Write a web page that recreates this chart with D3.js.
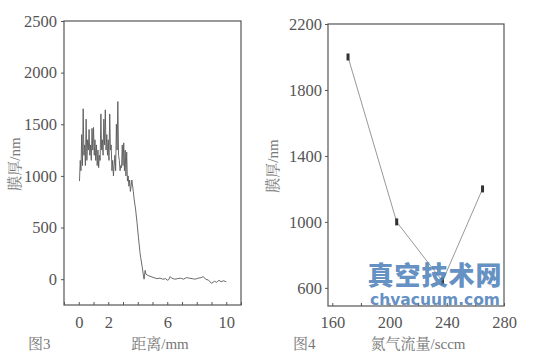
<!DOCTYPE html>
<html>
<head>
<meta charset="utf-8">
<script src="https://cdn.jsdelivr.net/npm/d3@7"></script>
<style>
html,body{margin:0;padding:0;background:#fff;}
svg{display:block;}
.sf{font-family:"Liberation Serif","DejaVu Serif",serif;}
.cj{font-family:"Liberation Serif","Noto Serif CJK SC","Noto Sans CJK SC",serif;}
</style>
</head>
<body>
<svg id="c" width="534" height="364"></svg>
<script>
// ---- Figure 3: thickness profile ----
const distanceMm = [0.05,0.1,0.15,0.2,0.25,0.3,0.35,0.4,0.45,0.5,0.55,0.6,0.65,0.7,0.75,0.8,0.85,0.9,0.95,1.0,
  1.05,1.1,1.15,1.2,1.25,1.3,1.35,1.4,1.45,1.5,1.55,1.6,1.65,1.7,1.75,1.8,1.85,1.9,1.95,2.0,
  2.05,2.1,2.15,2.2,2.25,2.3,2.35,2.4,2.45,2.5,2.55,2.6,2.65,2.7,2.75,2.8,2.85,2.9,2.95,3.0,
  3.05,3.1,3.15,3.2,3.25,3.3,3.35,3.4,3.45,3.5,3.55,3.6,3.7,3.75,3.85,3.95,4.05,4.15,4.2,4.3,
  4.4,4.43,4.5,4.55,4.7,4.9,5.1,5.3,5.5,5.7,5.9,6.0,6.1,6.2,6.3,6.5,6.7,6.9,7.1,7.3,
  7.5,7.7,7.9,8.1,8.3,8.45,8.6,8.8,9.0,9.2,9.35,9.5,9.65,9.8,10.0];
const thicknessNm = [950,1150,1050,1400,1100,1650,1200,1300,1100,1550,1150,1350,1250,1450,1200,1300,1150,1460,1250,1470,
  1200,1350,1150,1300,1100,1250,1080,1200,1150,1600,1250,1350,1200,1550,1300,1640,1250,1400,1200,1350,
  1150,1600,1250,1300,1050,1150,1000,1100,1200,1050,1500,1250,1720,1200,1150,1050,1100,1080,1300,1100,
  1320,1050,1250,1000,1230,950,1000,900,960,850,900,960,850,780,680,550,400,260,210,120,
  20,0,85,50,35,25,15,5,10,0,5,-10,-5,25,10,0,5,10,0,15,
  10,5,0,10,15,25,0,-10,-40,-20,-30,-10,-25,-15,-25];
const fig3XTicks = [0,2,6,10];
const fig3YTicks = [0,500,1000,1500,2000,2500];

// ---- Figure 4: thickness vs nitrogen flow ----
const flowSccm = [171,205,237,265];
const flowThicknessNm = [2000,1000,640,1200];
const fig4XTicks = [160,200,240,280];
const fig4YTicks = [600,1000,1400,1800,2200];

const svg = d3.select("#c");
const axisCol = "#555";
const textCol = "#555";

function frame(g, x0, x1, y0, y1){
  g.append("rect").attr("x",x0).attr("y",y0).attr("width",x1-x0).attr("height",y1-y0)
    .attr("fill","none").attr("stroke",axisCol).attr("stroke-width",1.2);
}

function styleAxis(sel){
  sel.attr("font-family",null).attr("font-size",null);
  sel.select(".domain").remove();
  sel.selectAll("line").attr("stroke",axisCol);
  sel.selectAll("text").attr("class","sf").attr("fill",textCol).style("font-size","16.5px");
}

// Left chart
const x3 = d3.scaleLinear().domain([-1,11]).range([64,241]);
const y3 = d3.scaleLinear().domain([-250,2500]).range([305,21]);
const g3 = svg.append("g");
frame(g3,64,241,21,305);
g3.append("g").attr("transform","translate(64,0)")
  .call(d3.axisLeft(y3).tickValues(fig3YTicks).tickFormat(d3.format("d")).tickSizeInner(3).tickSizeOuter(0).tickPadding(4))
  .call(styleAxis);
g3.append("g").attr("transform","translate(0,305)")
  .call(d3.axisBottom(x3).tickValues(d3.range(-1,12,1)).tickSizeInner(-3).tickSizeOuter(0).tickPadding(11)
    .tickFormat(d=> fig3XTicks.includes(d)? String(d) : ""))
  .call(styleAxis);
const line3 = d3.line().x((d,i)=>x3(distanceMm[i])).y(d=>y3(d));
g3.append("path").datum(thicknessNm).attr("d",line3)
  .attr("fill","none").attr("stroke","#5a5a5a").attr("stroke-width",0.9).attr("stroke-linejoin","round");
function label(g, x, y, t, anchor, rot){
  const el = g.append("text").attr("class","cj").attr("fill","#777").style("font-size","15px").text(t);
  if(rot){ el.attr("transform",`translate(${x},${y}) rotate(-90)`).attr("text-anchor","middle"); }
  else { el.attr("x",x).attr("y",y).attr("text-anchor",anchor); }
}
label(g3,160,349,"距离/mm","middle");
label(g3,28,349,"图3","start");
label(g3,20,164,"膜厚/nm","middle",true);

// Right chart
const x4 = d3.scaleLinear().domain([157,280]).range([328,504]);
const y4 = d3.scaleLinear().domain([490,2200]).range([306,24]);
const g4 = svg.append("g");
frame(g4,328,504,24,306);
g4.append("g").attr("transform","translate(328,0)")
  .call(d3.axisLeft(y4).tickValues(fig4YTicks).tickFormat(d3.format("d")).tickSizeInner(3).tickSizeOuter(0).tickPadding(3))
  .call(styleAxis);
g4.append("g").attr("transform","translate(0,306)")
  .call(d3.axisBottom(x4).tickValues(d3.range(160,281,20)).tickSizeInner(-3).tickSizeOuter(0).tickPadding(10)
    .tickFormat(d=> fig4XTicks.includes(d)? String(d) : ""))
  .call(styleAxis);
const line4 = d3.line().x((d,i)=>x4(flowSccm[i])).y(d=>y4(d));
g4.append("path").datum(flowThicknessNm).attr("d",line4)
  .attr("fill","none").attr("stroke","#999").attr("stroke-width",1);
g4.selectAll("rect.m").data(flowThicknessNm).enter().append("rect").attr("class","m")
  .attr("x",(d,i)=>x4(flowSccm[i])-1.5).attr("y",d=>y4(d)-3.5)
  .attr("width",3).attr("height",7).attr("fill","#333");
label(g4,418,349,"氮气流量/sccm","middle");
label(g4,293,349,"图4","start");
label(g4,278,166,"膜厚/nm","middle",true);

// watermark
svg.append("text").attr("x",435).attr("y",285).attr("text-anchor","middle")
  .style("font-family","'Noto Sans CJK SC',sans-serif").style("font-weight","900").style("font-size","26px")
  .attr("letter-spacing",1).attr("fill","#4f82bb").attr("fill-opacity",0.9).text("真空技术网");
svg.append("text").attr("x",435).attr("y",305).attr("text-anchor","middle")
  .style("font-family","'DejaVu Sans',sans-serif").style("font-weight","bold").style("font-size","15.5px")
  .attr("fill","#4f82bb").attr("fill-opacity",0.9).text("chvacuum.com");
</script>
</body>
</html>
